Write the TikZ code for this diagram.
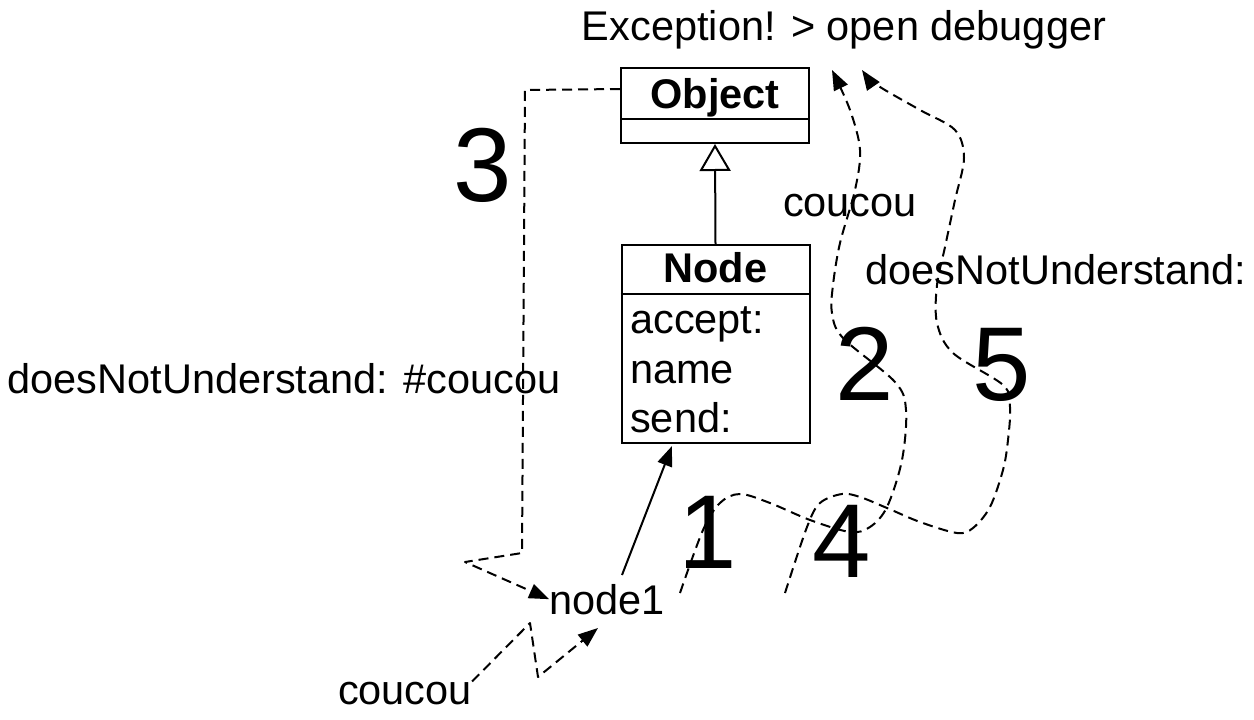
\documentclass[tikz,border=0pt]{standalone}
\usepackage{fontspec}
\setmainfont{Liberation Sans}
\usetikzlibrary{arrows.meta,calc}
\begin{document}
\begin{tikzpicture}[x=1pt,y=-1pt,
  lbl/.style={font=\fontsize{41.5}{49}\selectfont, inner sep=0pt, anchor=base},
  ttl/.style={font=\bfseries\fontsize{41.5}{49}\selectfont, inner sep=0pt, anchor=base},
  member/.style={font=\fontsize{41.5}{49}\selectfont, inner sep=0pt, anchor=base west},
  big/.style={font=\fontsize{105}{110}\selectfont, inner sep=0pt, anchor=base},
  classbox/.style={draw, line width=2pt, inner sep=0pt, minimum width=188},
  flow/.style={line width=2pt, dash pattern=on 10pt off 6pt, line join=round,
    -{Triangle[length=20pt,width=15pt]}},
  solidarrow/.style={line width=2pt, -{Triangle[length=20pt,width=15pt]}},
  inherit/.style={line width=2pt, -{Triangle[open,length=27pt,width=31pt]}}
]
\useasboundingbox (0,0) rectangle (1254,720);

% class boxes
\node[classbox, minimum height=75] (obj) at (715,105.5) {};
\draw[line width=2pt] ($(obj.south west)+(0,-25)$) -- ($(obj.south east)+(0,-25)$);
\node[ttl] (objt) at (715,108) {Object};

\node[classbox, minimum height=198] (nodebox) at (715.5,344) {};
\draw[line width=2pt] ($(nodebox.north west)+(0,50)$) -- ($(nodebox.north east)+(0,50)$);
\node[ttl] (nodet) at (715.5,282) {Node};
\node[member] (m1) at (630,333) {accept:};
\node[member] (m2) at (630,383) {name};
\node[member] (m3) at (630,432) {send:};

\draw[inherit] (nodebox.north) -- (obj.south);

% labels
\node[lbl] (exc) at (844,40) {Exception! > open debugger};
\node[lbl] (cc1) at (850,216) {coucou};
\node[lbl] (dnu1) at (1056,284) {doesNotUnderstand:};
\node[lbl] (dnu3) at (284,393) {doesNotUnderstand: \#coucou};
\node[lbl] (node1) at (607,614) {node1};
\node[lbl] (cc0) at (405,704) {coucou};

% step numbers
\node[big] (n3) at (483,201) {3};
\node[big] (n2) at (865,400) {2};
\node[big] (n5) at (1002,400) {5};
\node[big] (n1) at (708,568) {1};
\node[big] (n4) at (842,577) {4};

% coordinates
\coordinate (s1) at (622,575);
\coordinate (t1) at (672,446);
\coordinate (b1) at (530,623);
\coordinate (b2) at (538,677);
\coordinate (b3) at (598,628);
\coordinate (p1) at (525,90);
\coordinate (p2) at (522,553);
\coordinate (p3) at (465,562);
\coordinate (excA) at (832,70);
\coordinate (excB) at (862,70);

% solid arrow node1 -> Node
\draw[solidarrow] (s1) -- (t1);

% incoming coucou
\draw[flow] (cc0.north east) -- (b1) -- (b2) -- (b3);

% step 3: lookup to Object, back to node1
\draw[flow] ($(obj.north west)+(0,22)$) -- (p1) -- (p2) -- (p3) -- (node1.west);

% steps 1 -> 2
\draw[flow] plot[smooth, tension=0.55] coordinates {
  (680,593) (703,530) (720,503) (740,494) (770,503) (810,520) (850,532)
  (870,527) (887,507) (902,460) (906,410) (895,382) (843,338) (832,313)
  (833,285) (840,243) (855,190) (860,150) (850,110) (excA)};

% steps 4 -> 5
\draw[flow] plot[smooth, tension=0.55] coordinates {
  (785,593) (807,527) (820,503) (842,494) (860,497) (887,508) (920,522)
  (957,533) (973,528) (990,507) (1003,470) (1008,440) (1010,407) (1003,385)
  (953,353) (937,323) (937,285) (945,247) (955,200) (964,158) (955,130)
  (920,110) (877,85) (excB)};
\end{tikzpicture}
\end{document}
